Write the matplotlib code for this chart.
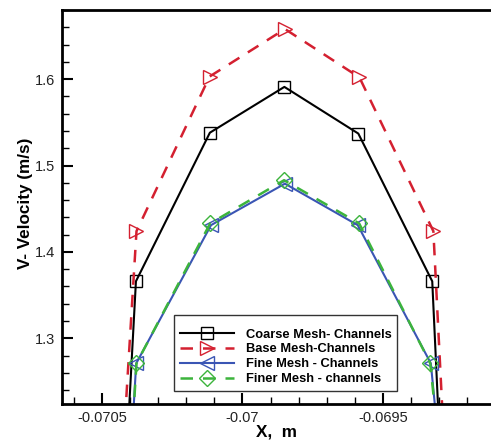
import matplotlib.pyplot as plt
from matplotlib.ticker import MultipleLocator

plt.rcParams['font.family'] = ['Liberation Sans', 'DejaVu Sans']

# data (points below 1.224 are outside the view)
x_coarse = [-0.070423, -0.070379, -0.070116, -0.069851, -0.069588, -0.069325, -0.069287]
v_coarse = [1.10, 1.366, 1.538, 1.591, 1.537, 1.366, 1.10]

x_base = [-0.070438, -0.070377, -0.070117, -0.069849, -0.069584, -0.069321, -0.069271]
v_base = [1.10, 1.424, 1.603, 1.658, 1.602, 1.424, 1.10]

x_fine = [-0.070409, -0.070378, -0.070112, -0.069849, -0.069590, -0.069330, -0.069279]
v_fine = [1.10, 1.271, 1.431, 1.479, 1.431, 1.271, 1.10]

x_finer = [-0.070409, -0.070377, -0.070115, -0.069852, -0.069585, -0.069332, -0.069279]
v_finer = [1.10, 1.271, 1.433, 1.483, 1.433, 1.271, 1.10]

fig = plt.figure(figsize=(4.91, 4.41), dpi=100)
ax = fig.add_axes([62 / 491, 37 / 441, 1 - 62 / 491, 394 / 441])

ax.plot(x_coarse, v_coarse, color='black', lw=1.5, marker='s', ms=8,
        mfc='none', mec='black', mew=1.0, label='Coarse Mesh- Channels')
ax.plot(x_base, v_base, color='#d42030', lw=1.8, ls=(0, (5, 4)), marker='>', ms=10,
        mfc='none', mec='#d42030', mew=1.0, label='Base Mesh-Channels')
ax.plot(x_fine, v_fine, color='#3a55b4', lw=1.5, marker='<', ms=10,
        mfc='none', mec='#3a55b4', mew=1.0, label='Fine Mesh - Channels')
ax.plot(x_finer, v_finer, color='#3cb43c', lw=1.8, ls=(0, (5, 4)), marker='D', ms=8,
        mfc='none', mec='#3cb43c', mew=1.0, label='Finer Mesh - channels')

ax.set_xlim(-0.070642, -0.069116)
ax.set_ylim(1.224, 1.68)

ax.xaxis.set_major_locator(MultipleLocator(0.0005))
ax.xaxis.set_minor_locator(MultipleLocator(0.0001))
ax.yaxis.set_major_locator(MultipleLocator(0.1))
ax.yaxis.set_minor_locator(MultipleLocator(0.02))
ax.set_xticks([-0.0705, -0.07, -0.0695])
ax.set_xticklabels(['-0.0705', '-0.07', '-0.0695'])
ax.set_yticks([1.3, 1.4, 1.5, 1.6])
ax.set_yticklabels(['1.3', '1.4', '1.5', '1.6'])

ax.tick_params(which='major', direction='in', length=8, width=1.5, labelsize=10.5,
               pad=5, colors='black', labelcolor='#222222')
ax.tick_params(which='minor', direction='in', length=5, width=1.0)
ax.tick_params(top=False, right=False, which='both')

for side in ['left', 'bottom', 'top']:
    ax.spines[side].set_linewidth(2.0)
ax.spines['right'].set_visible(False)

ax.set_xlabel('X,  m', fontsize=12.3, fontweight='bold', labelpad=0)
ax.set_ylabel('V- Velocity (m/s)', fontsize=12.3, fontweight='bold')
ax.yaxis.set_label_coords(-0.068, 0.51)

leg = ax.legend(loc='lower left', bbox_to_anchor=(112 / 429, 13 / 394),
                prop={'weight': 'bold', 'size': 9.3},
                title=' ', title_fontsize=4,
                frameon=True, fancybox=False, edgecolor='black',
                handlelength=4.2, borderpad=0.45, labelspacing=0.22,
                handletextpad=0.9, borderaxespad=0)
leg.get_frame().set_linewidth(1.0)

fig.savefig('out.png', dpi=100)
